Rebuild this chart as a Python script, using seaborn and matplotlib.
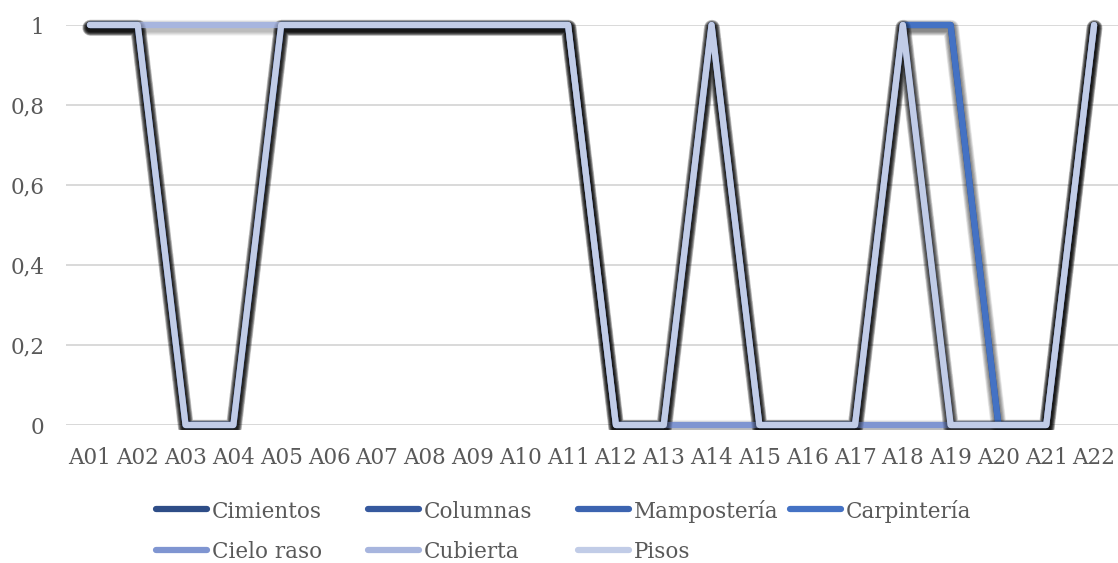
import matplotlib
matplotlib.use("Agg")
import matplotlib.pyplot as plt
import matplotlib.patheffects as pe
from matplotlib.lines import Line2D
from matplotlib.patches import Rectangle
import pandas as pd
import seaborn as sns

# Categories (building units)
categories = [f"A{i:02d}" for i in range(1, 23)]

# Condition indicator per building element (1 = present / 0 = absent)
cimientos    = [1, 1, 0, 0, 1, 1, 1, 1, 1, 1, 1, 0, 0, 1, 0, 0, 0, 1, 0, 0, 0, 1]
columnas     = [1, 1, 0, 0, 1, 1, 1, 1, 1, 1, 1, 0, 0, 1, 0, 0, 0, 1, 0, 0, 0, 1]
mamposteria  = [1, 1, 0, 0, 1, 1, 1, 1, 1, 1, 1, 0, 0, 1, 0, 0, 0, 1, 1, 0, 0, 1]
carpinteria  = [1, 1, 0, 0, 1, 1, 1, 1, 1, 1, 1, 0, 0, 1, 0, 0, 0, 1, 1, 0, 0, 1]
cielo_raso   = [1, 1, 0, 0, 1, 1, 1, 1, 1, 1, 1, 0, 0, 0, 0, 0, 0, 0, 0, 0, 0, 1]
cubierta     = [1, 1, 1, 1, 1, 1, 1, 1, 1, 1, 1, 0, 0, 1, 0, 0, 0, 1, 0, 0, 0, 1]
pisos        = [1, 1, 0, 0, 1, 1, 1, 1, 1, 1, 1, 0, 0, 1, 0, 0, 0, 1, 0, 0, 0, 1]

series_names = ["Cimientos", "Columnas", "Mampostería", "Carpintería",
                "Cielo raso", "Cubierta", "Pisos"]
series_values = [cimientos, columnas, mamposteria, carpinteria,
                 cielo_raso, cubierta, pisos]
colors = ["#2e4d87", "#36599e", "#3c64b0", "#4472c4",
          "#7f95d1", "#a7b5de", "#c1cce7"]

y_ticks = [0, 0.2, 0.4, 0.6, 0.8, 1]
y_tick_labels = ["0", "0,2", "0,4", "0,6", "0,8", "1"]

rows = []
for name, vals in zip(series_names, series_values):
    for cat, v in zip(categories, vals):
        rows.append({"cat": cat, "value": v, "serie": name})
df = pd.DataFrame(rows)

sns.set_theme(style="white")
plt.rcParams["font.family"] = ["DejaVu Serif"]
text_color = "#595959"
fs = 15.5

W, H = 1118, 563
fig = plt.figure(figsize=(W / 100, H / 100), dpi=100)
ax = fig.add_axes([66 / W, (H - 425) / H, (W - 66) / W, 400 / H])

sns.lineplot(data=df, x="cat", y="value", hue="serie", hue_order=series_names,
             palette=colors, linewidth=4.5, sort=False, legend=False, ax=ax)

# soft drop shadow under every line (stacks where series overlap)
shadow = []
for k in range(8):
    shadow.append(pe.Stroke(linewidth=11.5 - 0.8 * k, foreground="black",
                            alpha=0.035, offset=(0.3, -2.0)))
clip = Rectangle((-1, -0.013), len(categories) + 2, 1.2,
                 transform=ax.transData, visible=False)
ax.add_patch(clip)
for ln in ax.lines:
    ln.set_solid_capstyle("round")
    ln.set_solid_joinstyle("round")
    ln.set_clip_on(True)
    ln.set_clip_path(clip)
    ln.set_path_effects(shadow + [pe.Normal()])

ax.set_xlim(-0.5, len(categories) - 0.5)
ax.set_ylim(0, 1)
ax.set_yticks(y_ticks)
ax.set_yticklabels(y_tick_labels)
ax.set_xlabel("")
ax.set_ylabel("")
ax.grid(axis="y", color="#d9d9d9", linewidth=1.4)
ax.grid(axis="x", visible=False)
ax.set_axisbelow(True)
for s in ax.spines.values():
    s.set_visible(False)
ax.axhline(0, color="#d9d9d9", linewidth=1.4, zorder=0)
ax.tick_params(axis="both", length=0, labelsize=fs, colors=text_color)
ax.tick_params(axis="y", pad=15.5)
ax.tick_params(axis="x", pad=15.5)

# legend: 4 equal-width columns, filled row by row
col_x = [153, 365, 575, 787]
row_y = [509, 550]
for i, (name, c) in enumerate(zip(series_names, colors)):
    r, col = divmod(i, 4)
    x0, y0 = col_x[col], row_y[r]
    fig.add_artist(Line2D([(x0 + 3) / W, (x0 + 54) / W],
                          [(H - y0) / H, (H - y0) / H],
                          transform=fig.transFigure, color=c, linewidth=4.5,
                          solid_capstyle="round"))
    fig.text((x0 + 59) / W, (H - y0) / H, name, fontsize=fs,
             color=text_color, ha="left", va="center_baseline")

fig.savefig("out.png", dpi=100)
